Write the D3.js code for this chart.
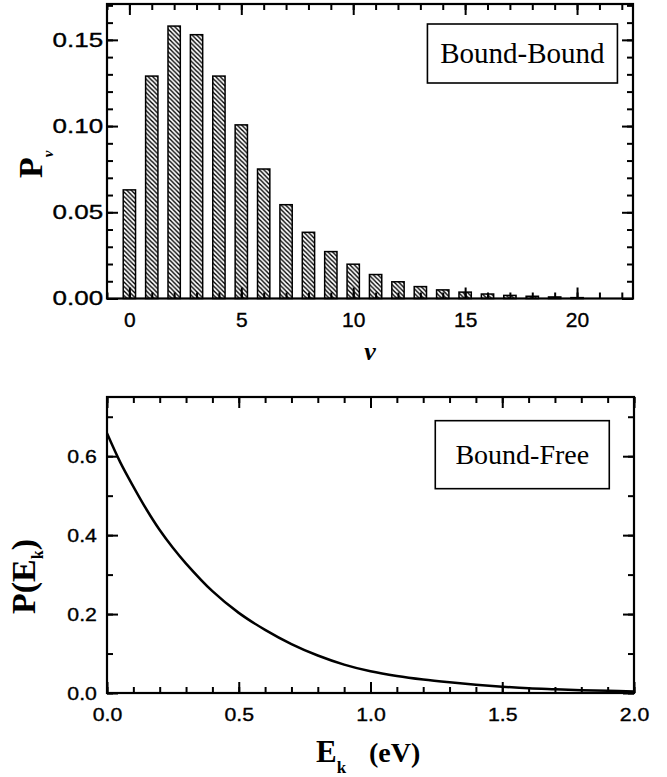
<!DOCTYPE html>
<html>
<head>
<meta charset="utf-8">
<script src="https://cdn.jsdelivr.net/npm/d3@7"></script>
<style>
  body { margin: 0; background: #fff; }
  svg { display: block; }
  .tick text { font-family: "Liberation Sans", Arial, sans-serif; fill: #000; stroke: #000; stroke-width: 0.35px; }
  .lab { font-family: "Liberation Serif", "Times New Roman", serif; font-weight: bold; fill: #000; }
  .box text { font-family: "Liberation Serif", "Times New Roman", serif; fill: #000; }
</style>
</head>
<body>
<div id="chart"></div>
<script>
// vibrational levels and bound-bound probabilities
var levels = [0, 1, 2, 3, 4, 5, 6, 7, 8, 9, 10, 11, 12, 13, 14, 15, 16, 17, 18, 19, 20];
var pv = [0.063, 0.129, 0.158, 0.153, 0.129, 0.1007, 0.0751, 0.0544, 0.0384, 0.0272,
          0.0199, 0.0139, 0.0097, 0.0069, 0.005, 0.0037, 0.0026, 0.0018, 0.0013, 0.0009, 0.0005];

// bound-free kinetic energy distribution
var ek = [0, 0.05, 0.1, 0.15, 0.2, 0.25, 0.3, 0.4, 0.5, 0.6, 0.7, 0.8, 0.9, 1.0,
          1.1, 1.2, 1.3, 1.4, 1.5, 1.6, 1.7, 1.8, 1.9, 2.0];
var pek = [0.658, 0.585, 0.523, 0.465, 0.413, 0.368, 0.328, 0.258, 0.203, 0.160, 0.124, 0.095,
           0.072, 0.055, 0.043, 0.034, 0.027, 0.021, 0.016, 0.012, 0.0095, 0.0072, 0.0055, 0.004];

var topXTicks = [0, 5, 10, 15, 20];
var topYTicks = [0, 0.05, 0.10, 0.15];
var botXTicks = [0, 0.5, 1.0, 1.5, 2.0];
var botYTicks = [0, 0.2, 0.4, 0.6];

var W = 667, H = 777;
var svg = d3.select("#chart").append("svg").attr("width", W).attr("height", H);

svg.append("defs").append("pattern")
    .attr("id", "hatch")
    .attr("patternUnits", "userSpaceOnUse")
    .attr("width", 4.5).attr("height", 4.5)
  .append("path")
    .attr("d", "M-1,-1L5.5,5.5M-1,3.5L1,5.5M3.5,-1L5.5,1")
    .attr("stroke", "#000")
    .attr("stroke-width", 1.4);

// draws inward ticks (major + minor) on all four sides
function frame(g, x, y, w, h, xMaj, xMin, yMaj, yMin) {
  var sides = [
    [d3.axisBottom(x), "translate(0," + h + ")", xMaj, xMin],
    [d3.axisTop(x), "translate(0,0)", xMaj, xMin],
    [d3.axisLeft(y), "translate(0,0)", yMaj, yMin],
    [d3.axisRight(y), "translate(" + w + ",0)", yMaj, yMin]
  ];
  sides.forEach(function(s) {
    g.append("g").attr("transform", s[1])
      .call(s[0].tickValues(s[3]).tickSize(-6).tickFormat(""))
      .call(function(a) { a.select(".domain").remove(); a.selectAll("line").attr("stroke-width", 2); });
    g.append("g").attr("transform", s[1])
      .call(s[0].tickValues(s[2]).tickSize(-11).tickFormat(""))
      .call(function(a) { a.select(".domain").remove(); a.selectAll("line").attr("stroke-width", 2); });
  });
  g.append("rect").attr("width", w).attr("height", h)
    .attr("fill", "none").attr("stroke", "#000").attr("stroke-width", 2.2);
}

// ---------- top panel ----------
var m1 = {left: 107, top: 4}, w1 = 526, h1 = 294.5;
var g1 = svg.append("g").attr("transform", "translate(" + m1.left + "," + m1.top + ")");
var x1 = d3.scaleLinear().domain([-1, 22.5]).range([0, w1]);
var y1 = d3.scaleLinear().domain([0, 0.1708]).range([h1, 0]);

g1.selectAll("rect.bar")
  .data(levels)
  .enter().append("rect")
    .attr("class", "bar")
    .attr("x", function(d) { return x1(d - 0.275); })
    .attr("width", x1(0.55) - x1(0))
    .attr("y", function(d, i) { return y1(pv[i]); })
    .attr("height", function(d, i) { return h1 - y1(pv[i]); })
    .attr("fill", "url(#hatch)")
    .attr("stroke", "#000")
    .attr("stroke-width", 1.5);

frame(g1, x1, y1, w1, h1, topXTicks, d3.range(-1, 23, 1), topYTicks, d3.range(0, 0.171, 0.01));

g1.append("g").attr("transform", "translate(0," + h1 + ")")
  .call(d3.axisBottom(x1).tickValues(topXTicks).tickSize(0).tickPadding(14).tickFormat(d3.format("d")))
  .call(function(a) { a.select(".domain").remove(); a.selectAll("text").attr("font-size", 21); });

g1.append("g")
  .call(d3.axisLeft(y1).tickValues(topYTicks).tickSize(0).tickPadding(3).tickFormat(d3.format(".2f")))
  .call(function(a) {
    a.select(".domain").remove();
    a.selectAll("text").attr("font-size", 20).attr("transform", "scale(1.3,1)");
  });

var bb = g1.append("g").attr("class", "box").attr("transform", "translate(" + x1(17.56) + "," + y1(0.1592) + ")");
bb.append("rect").attr("x", -95).attr("y", 0).attr("width", 190).attr("height", 59)
  .attr("fill", "#fff").attr("stroke", "#000").attr("stroke-width", 1.6);
bb.append("text").attr("x", 0).attr("y", 39).attr("text-anchor", "middle")
  .attr("font-size", 29).text("Bound-Bound");

// y label P_v
var ly1 = svg.append("text").attr("class", "lab")
  .attr("transform", "translate(42,178) rotate(-90)")
  .attr("font-size", 34);
ly1.append("tspan").text("P");
ly1.append("tspan").attr("font-size", 15).attr("font-style", "italic").attr("dy", 11).text("v");

svg.append("text").attr("class", "lab")
  .attr("x", 370).attr("y", 360)
  .attr("text-anchor", "middle")
  .attr("font-size", 26).attr("font-style", "italic")
  .text("v");

// ---------- bottom panel ----------
var m2 = {left: 107, top: 397}, w2 = 527, h2 = 296;
var g2 = svg.append("g").attr("transform", "translate(" + m2.left + "," + m2.top + ")");
var x2 = d3.scaleLinear().domain([0, 2]).range([0, w2]);
var y2 = d3.scaleLinear().domain([0, 0.75]).range([h2, 0]);

var line = d3.line()
  .x(function(d, i) { return x2(ek[i]); })
  .y(function(d) { return y2(d); })
  .curve(d3.curveCatmullRom.alpha(0.5));

g2.append("path").datum(pek)
  .attr("d", line)
  .attr("fill", "none")
  .attr("stroke", "#000")
  .attr("stroke-width", 2.5);

frame(g2, x2, y2, w2, h2, botXTicks, d3.range(0, 2.01, 0.1), botYTicks, d3.range(0, 0.76, 0.1));

g2.append("g").attr("transform", "translate(0," + h2 + ")")
  .call(d3.axisBottom(x2).tickValues(botXTicks).tickSize(0).tickPadding(15).tickFormat(d3.format(".1f")))
  .call(function(a) {
    a.select(".domain").remove();
    a.selectAll("text").attr("font-size", 19).attr("transform", "scale(1.12,1)");
  });

g2.append("g")
  .call(d3.axisLeft(y2).tickValues(botYTicks).tickSize(0).tickPadding(9).tickFormat(d3.format(".1f")))
  .call(function(a) {
    a.select(".domain").remove();
    a.selectAll("text").attr("font-size", 19).attr("transform", "scale(1.12,1)");
  });

var bf = g2.append("g").attr("class", "box").attr("transform", "translate(" + x2(1.576) + "," + y2(0.690) + ")");
bf.append("rect").attr("x", -87).attr("y", 0).attr("width", 174).attr("height", 68)
  .attr("fill", "#fff").attr("stroke", "#000").attr("stroke-width", 1.6);
bf.append("text").attr("x", 0).attr("y", 43).attr("text-anchor", "middle")
  .attr("font-size", 28).text("Bound-Free");

// y label P(E_k)
var ly2 = svg.append("text").attr("class", "lab")
  .attr("transform", "translate(35,614) rotate(-90)")
  .attr("font-size", 34);
ly2.append("tspan").text("P(E");
ly2.append("tspan").attr("font-size", 16).attr("dy", 8).text("k");
ly2.append("tspan").attr("dy", -8).text(")");

// x label E_k (eV)
var lx2 = svg.append("text").attr("class", "lab")
  .attr("x", 316).attr("y", 762)
  .attr("font-size", 31);
lx2.append("tspan").text("E");
lx2.append("tspan").attr("font-size", 17).attr("dy", 11).text("k");
lx2.append("tspan").attr("x", 369).attr("dy", -11).attr("font-size", 28).text("(eV)");
</script>
</body>
</html>
